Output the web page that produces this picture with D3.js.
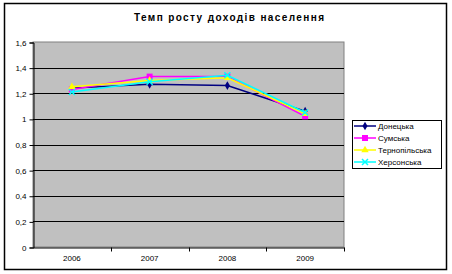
<!DOCTYPE html>
<html>
<head>
<meta charset="utf-8">
<script src="https://cdn.jsdelivr.net/npm/d3@7"></script>
<style>
  body { margin: 0; background: #fff; }
  text { font-family: "Liberation Sans", Arial, sans-serif; }
</style>
</head>
<body>
<div id="chart"></div>
<script>
// Data
var years = ["2006", "2007", "2008", "2009"];
var regions = ["Донецька", "Сумська", "Тернопільська", "Херсонська"];
var donetska = [1.24, 1.27, 1.26, 1.06];
var sumska = [1.23, 1.33, 1.33, 1.02];
var ternopilska = [1.25, 1.30, 1.32, 1.04];
var khersonska = [1.21, 1.29, 1.34, 1.05];
var yTicks = [0, 0.2, 0.4, 0.6, 0.8, 1, 1.2, 1.4, 1.6];

var colors = ["#000080", "#ff00ff", "#ffff00", "#00ffff"];
var symbols = ["diamond", "square", "triangle", "cross"];

// Sizing
var width = 452;
var height = 274;
var plot = { left: 33, top: 42, right: 344, bottom: 247 };

var svg = d3.select("#chart")
    .append("svg")
    .attr("width", width)
    .attr("height", height);

// Outer border
svg.append("rect")
    .attr("x", 4.5).attr("y", 3.5)
    .attr("width", 442).attr("height", 266)
    .attr("fill", "#fff")
    .attr("stroke", "#000")
    .attr("stroke-width", 1.5);

// Title
svg.append("text")
    .attr("x", 229).attr("y", 21)
    .attr("text-anchor", "middle")
    .attr("font-size", 10)
    .attr("font-weight", "bold")
    .attr("textLength", 190)
    .attr("lengthAdjust", "spacing")
    .text("Темп росту доходів населення");

// Scales
var x = d3.scaleBand()
    .domain(years)
    .range([plot.left, plot.right]);

var y = d3.scaleLinear()
    .domain([0, 1.6])
    .range([plot.bottom, plot.top]);

// Plot area
svg.append("rect")
    .attr("x", plot.left).attr("y", plot.top)
    .attr("width", plot.right - plot.left)
    .attr("height", plot.bottom - plot.top)
    .attr("fill", "#c0c0c0")
    .attr("stroke", "#808080")
    .attr("stroke-width", 1);

// Gridlines
svg.selectAll(".grid")
    .data(yTicks.filter(d => d > 0 && d < 1.6))
    .enter()
    .append("line")
    .attr("x1", plot.left).attr("x2", plot.right)
    .attr("y1", d => Math.round(y(d)) + 0.5)
    .attr("y2", d => Math.round(y(d)) + 0.5)
    .attr("stroke", "#000")
    .attr("stroke-width", 1);

// Y axis
var yAxis = d3.axisLeft(y)
    .tickValues(yTicks)
    .tickSize(4)
    .tickPadding(3)
    .tickFormat(d => d3.format("~g")(d).replace(".", ","));

svg.append("g")
    .attr("transform", "translate(" + (plot.left + 0.5) + ",0.5)")
    .call(yAxis)
    .call(g => g.selectAll("text").attr("font-size", 8).attr("font-family", "Liberation Sans, Arial, sans-serif"))
    .call(g => g.selectAll("line, path").attr("stroke", "#000"));

// X axis
var xAxis = d3.axisBottom(x)
    .tickSize(0)
    .tickPadding(8);

var gx = svg.append("g")
    .attr("transform", "translate(0," + (plot.bottom + 0.5) + ")")
    .call(xAxis)
    .call(g => g.selectAll("text").attr("font-size", 8).attr("font-family", "Liberation Sans, Arial, sans-serif"))
    .call(g => g.select(".domain").attr("stroke", "#000"));

// Category separators on x axis
gx.selectAll(".sep")
    .data(years.slice(1).concat(["end"]))
    .enter()
    .append("line")
    .attr("x1", (d, i) => Math.round(plot.left + x.bandwidth() * (i + 1)) + 0.5)
    .attr("x2", (d, i) => Math.round(plot.left + x.bandwidth() * (i + 1)) + 0.5)
    .attr("y1", 0).attr("y2", 4)
    .attr("stroke", "#000");

// Lines
var series = [donetska, sumska, ternopilska, khersonska];
var line = d3.line()
    .x((d, i) => x(years[i]) + x.bandwidth() / 2)
    .y(d => y(d));

function marker(g, type, color, cx, cy) {
    if (type === "diamond") {
        g.append("path").attr("d", d3.symbol(d3.symbolDiamond, 22)()).attr("transform", "translate(" + cx + "," + cy + ")").attr("fill", color);
    } else if (type === "square") {
        g.append("rect").attr("x", cx - 3).attr("y", cy - 3).attr("width", 6).attr("height", 6).attr("fill", color);
    } else if (type === "triangle") {
        g.append("path").attr("d", d3.symbol(d3.symbolTriangle, 24)()).attr("transform", "translate(" + cx + "," + cy + ")").attr("fill", color);
    } else {
        g.append("path").attr("d", "M-3,-3L3,3M-3,3L3,-3").attr("transform", "translate(" + cx + "," + cy + ")").attr("stroke", color).attr("stroke-width", 1.5);
    }
}

series.forEach(function (s, k) {
    var g = svg.append("g");
    g.append("path")
        .datum(s)
        .attr("d", line)
        .attr("fill", "none")
        .attr("stroke", colors[k])
        .attr("stroke-width", 1.5);
    s.forEach(function (v, i) {
        marker(g, symbols[k], colors[k], x(years[i]) + x.bandwidth() / 2, y(v));
    });
});

// Legend
var legend = svg.append("g");
legend.append("rect")
    .attr("x", 352.5).attr("y", 120.5)
    .attr("width", 89).attr("height", 48)
    .attr("fill", "#fff")
    .attr("stroke", "#000");

var legendY = [126, 138, 150, 162];
regions.forEach(function (name, k) {
    legend.append("line")
        .attr("x1", 354).attr("x2", 376)
        .attr("y1", legendY[k]).attr("y2", legendY[k])
        .attr("stroke", colors[k])
        .attr("stroke-width", 1.5);
    marker(legend, symbols[k], colors[k], 365, legendY[k]);
    legend.append("text")
        .attr("x", 378).attr("y", legendY[k] + 3)
        .attr("font-size", 8)
        .text(name);
});
</script>
</body>
</html>
